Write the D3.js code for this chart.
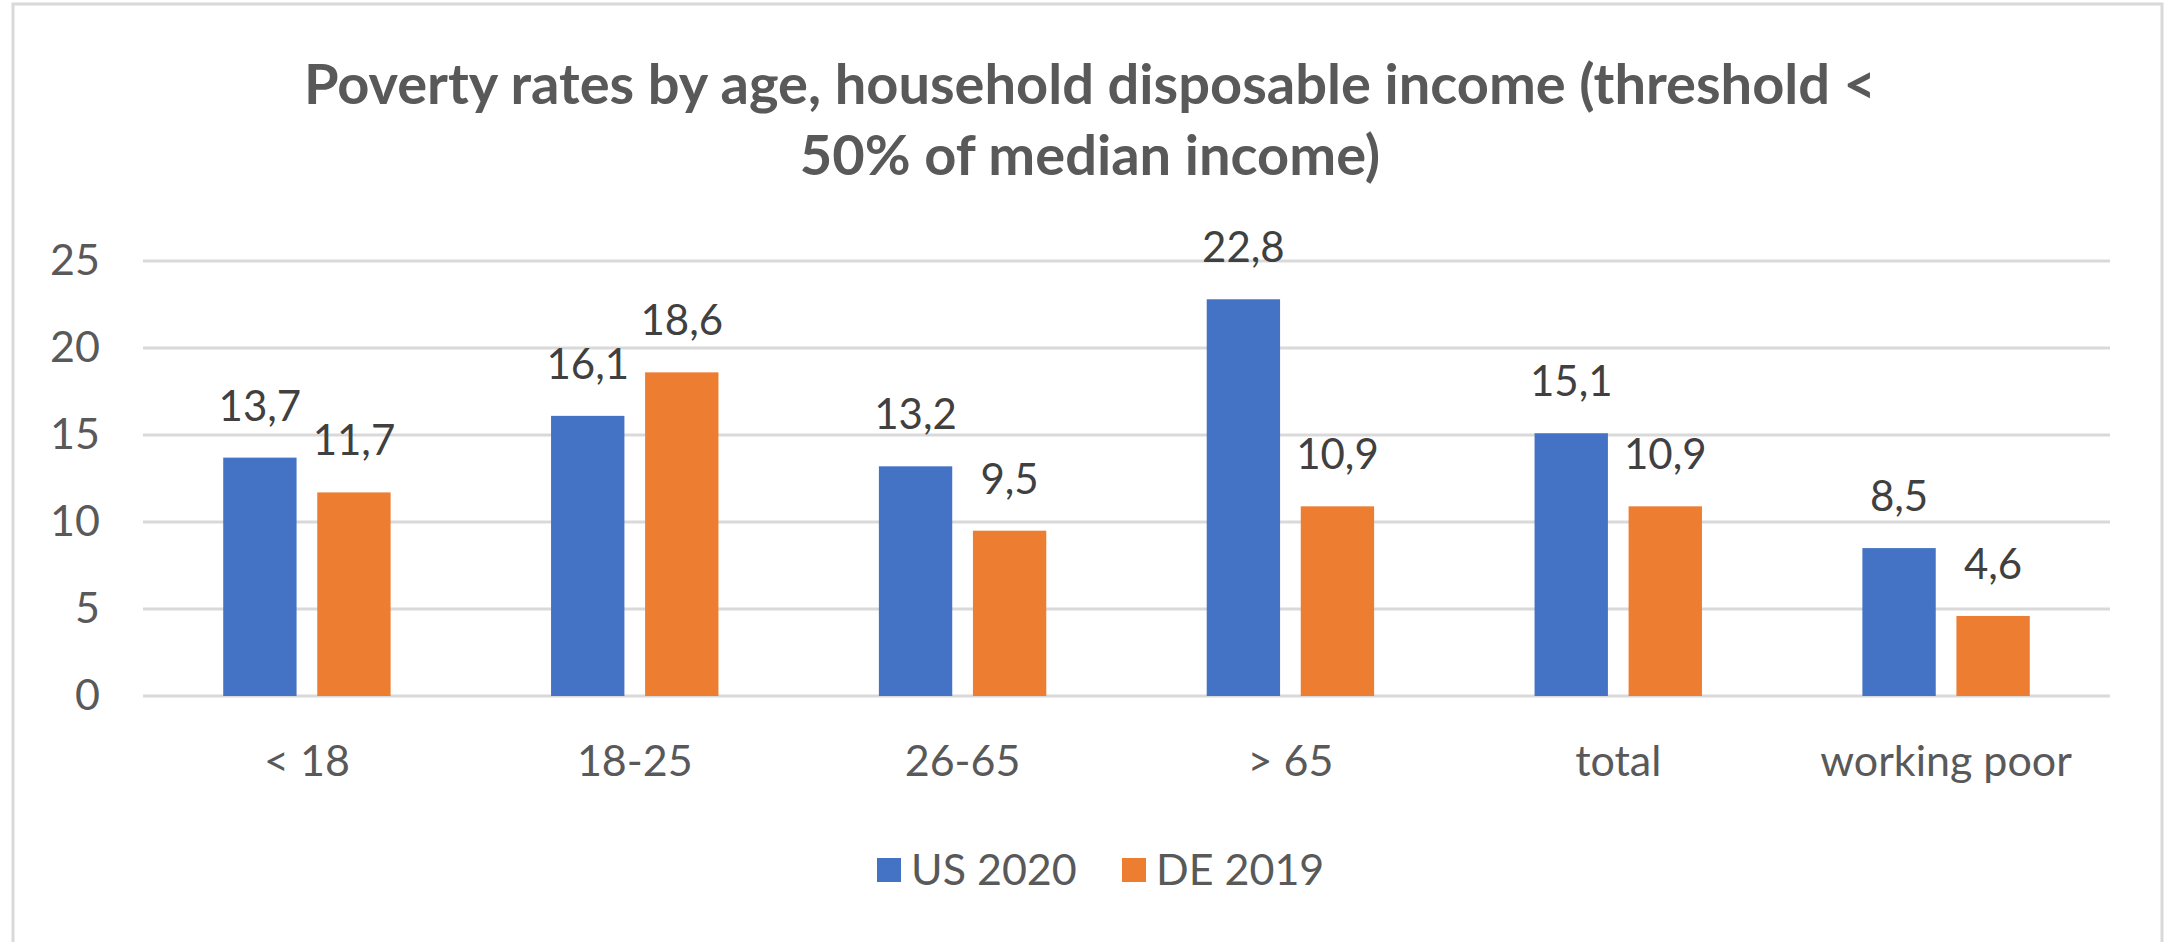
<!DOCTYPE html>
<html>
<head>
<meta charset="utf-8">
<script src="https://cdnjs.cloudflare.com/ajax/libs/d3/7.8.5/d3.min.js"></script>
<style>
    body { margin: 0; background: #fff; }
    text { font-family: Lato, "Open Sans", sans-serif; }
</style>
</head>
<body>
<script>
let categories = ["< 18", "18-25", "26-65", "> 65", "total", "working poor"];
let series = ["US 2020", "DE 2019"];
let us2020 = [13.7, 16.1, 13.2, 22.8, 15.1, 8.5];
let de2019 = [11.7, 18.6, 9.5, 10.9, 10.9, 4.6];
let yTicks = [0, 5, 10, 15, 20, 25];
let titleLines = ["Poverty rates by age, household disposable income (threshold <", "50% of median income)"];

let width = 2172,
    height = 942,
    plotLeft = 143,
    plotRight = 2110,
    plotTop = 261,
    plotBottom = 696;

let colors = { "US 2020": "#4472C4", "DE 2019": "#ED7D31" };

let svg = d3.select("body").append("svg")
    .attr("width", width)
    .attr("height", height);

// chart border
svg.append("rect")
    .attr("x", 13)
    .attr("y", 4)
    .attr("width", 2149)
    .attr("height", 1000)
    .attr("fill", "#fff")
    .attr("stroke", "#d9d9d9")
    .attr("stroke-width", 3);

svg.selectAll("text.title")
    .data(titleLines)
    .enter()
    .append("text")
    .attr("class", "title")
    .attr("x", 1090)
    .attr("y", (d, i) => 104 + i * 71)
    .attr("text-anchor", "middle")
    .attr("font-size", 56)
    .attr("font-weight", "bold")
    .attr("fill", "#595959")
    .text(d => d);

let x0 = d3.scaleBand()
    .domain(categories)
    .range([plotLeft, plotRight]);

let x1 = d3.scaleBand()
    .domain(series)
    .range([0, x0.bandwidth()])
    .paddingInner(0.22)
    .paddingOuter(0.853);

let y = d3.scaleLinear()
    .domain([0, 25])
    .range([plotBottom, plotTop]);

// gridlines (the 0 line doubles as the axis)
svg.append("g")
    .selectAll("line")
    .data(yTicks)
    .enter()
    .append("line")
    .attr("x1", plotLeft)
    .attr("x2", plotRight)
    .attr("y1", d => y(d))
    .attr("y2", d => y(d))
    .attr("stroke", "#d9d9d9")
    .attr("stroke-width", 3);

let yAxis = svg.append("g")
    .attr("transform", `translate(${plotLeft}, 0)`)
    .call(d3.axisLeft(y).tickValues(yTicks).tickSize(0).tickPadding(43));
yAxis.select(".domain").remove();
yAxis.selectAll("text")
    .attr("font-size", 43)
    .attr("font-family", "Lato")
    .attr("fill", "#595959");

let xAxis = svg.append("g")
    .attr("transform", `translate(0, ${plotBottom})`)
    .call(d3.axisBottom(x0).tickSize(0).tickPadding(49));
xAxis.select(".domain").remove();
xAxis.selectAll("text")
    .attr("font-size", 43)
    .attr("font-family", "Lato")
    .attr("fill", "#595959");

let rows = categories.map((c, i) => ({
    category: c,
    values: [
        { key: series[0], value: us2020[i] },
        { key: series[1], value: de2019[i] }
    ]
}));

let groups = svg.selectAll("g.group")
    .data(rows)
    .enter()
    .append("g")
    .attr("class", "group")
    .attr("transform", d => `translate(${x0(d.category)}, 0)`);

groups.selectAll("rect")
    .data(d => d.values)
    .enter()
    .append("rect")
    .attr("x", d => x1(d.key))
    .attr("y", d => y(d.value))
    .attr("width", x1.bandwidth())
    .attr("height", d => y(0) - y(d.value))
    .attr("fill", d => colors[d.key]);

// value labels, decimal comma
groups.selectAll("text.value")
    .data(d => d.values)
    .enter()
    .append("text")
    .attr("class", "value")
    .attr("x", d => x1(d.key) + x1.bandwidth() / 2)
    .attr("y", d => y(d.value) - 37)
    .attr("text-anchor", "middle")
    .attr("font-size", 42)
    .attr("fill", "#404040")
    .text(d => d.value.toFixed(1).replace(".", ","));

// legend
let legend = svg.append("g");
let lx = 877;
series.forEach(function (s) {
    legend.append("rect")
        .attr("x", lx)
        .attr("y", 858)
        .attr("width", 24)
        .attr("height", 24)
        .attr("fill", colors[s]);
    legend.append("text")
        .attr("x", lx + 34)
        .attr("y", 885)
        .attr("font-size", 43)
        .attr("fill", "#595959")
        .text(s);
    lx += 245;
});
</script>
</body>
</html>
